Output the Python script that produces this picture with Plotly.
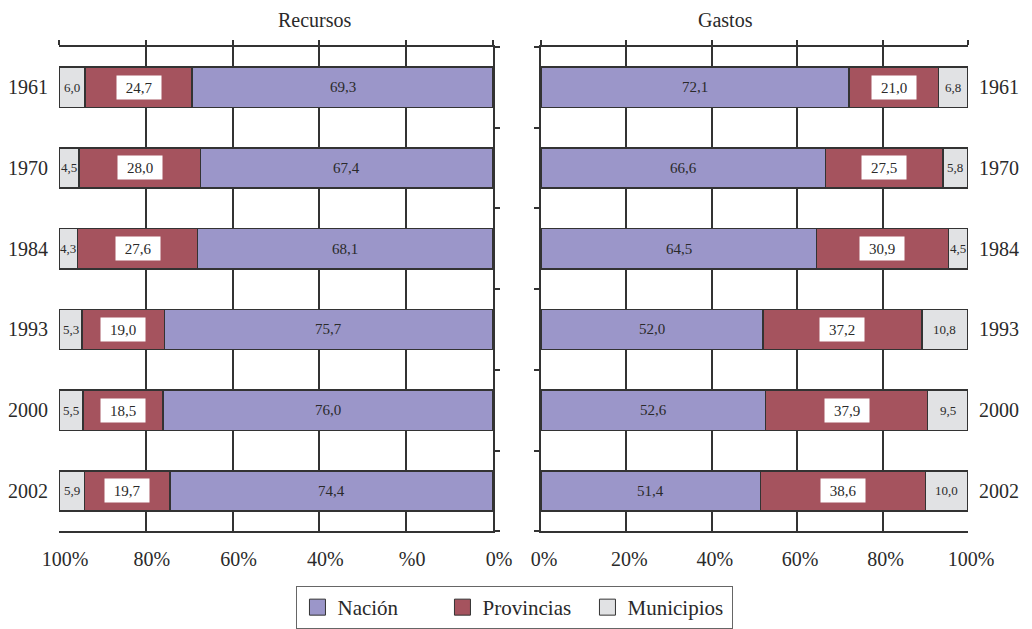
import plotly.graph_objects as go

years = ["1961", "1970", "1984", "1993", "2000", "2002"]
rec_nacion = [69.3, 67.4, 68.1, 75.7, 76.0, 74.4]
rec_prov = [24.7, 28.0, 27.6, 19.0, 18.5, 19.7]
rec_muni = [6.0, 4.5, 4.3, 5.3, 5.5, 5.9]
gas_nacion = [72.1, 66.6, 64.5, 52.0, 52.6, 51.4]
gas_prov = [21.0, 27.5, 30.9, 37.2, 37.9, 38.6]
gas_muni = [6.8, 5.8, 4.5, 10.8, 9.5, 10.0]
pct_vals = [0, 20, 40, 60, 80, 100]
left_tick_text = ["0%", "%0", "40%", "60%", "80%", "100%"]
right_tick_text = ["0%", "20%", "40%", "60%", "80%", "100%"]
series_names = ["Nación", "Provincias", "Municipios"]

C_NAC = "#9b96c9"
C_PROV = "#a5535e"
C_MUNI = "#e1e2e4"
colors = [C_NAC, C_PROV, C_MUNI]
EDGE = "#333333"
FONT = "Liberation Serif"
TXT = "#2a2a2a"

idx = list(range(len(years)))
bounds = [i - 0.5 for i in range(len(years) + 1)]

fig = go.Figure()

panels = [
    ("x", "y", [rec_nacion, rec_prov, rec_muni]),
    ("x2", "y2", [gas_nacion, gas_prov, gas_muni]),
]
for xa, ya, series in panels:
    for name, vals, col in zip(series_names, series, colors):
        fig.add_trace(go.Bar(
            x=vals, y=idx, orientation="h", name=name, xaxis=xa, yaxis=ya,
            marker=dict(color=col, line=dict(color=EDGE, width=1.5)),
            width=0.5, showlegend=False, hoverinfo="skip"))

# dummy traces for overlay axes
fig.add_trace(go.Scatter(x=[None], y=[None], xaxis="x3", yaxis="y3", showlegend=False, hoverinfo="skip"))
fig.add_trace(go.Scatter(x=[None], y=[None], xaxis="x4", yaxis="y4", showlegend=False, hoverinfo="skip"))

# legend proxies
for name, col in zip(series_names, colors):
    fig.add_trace(go.Scatter(
        x=[None], y=[None], mode="markers", name=name,
        marker=dict(symbol="square", size=16, color=col, line=dict(color=EDGE, width=1)),
        xaxis="x", yaxis="y"))

def fmt(v):
    return f"{v:.1f}".replace(".", ",")

annotations = []
for xa, ya, series in panels:
    nac, prov, muni = series
    for i in idx:
        annotations.append(dict(x=nac[i] / 2, y=i, xref=xa, yref=ya, text=fmt(nac[i]),
                                showarrow=False, font=dict(family=FONT, size=15, color=TXT)))
        annotations.append(dict(x=nac[i] + prov[i] / 2, y=i, xref=xa, yref=ya, text=fmt(prov[i]),
                                showarrow=False, bgcolor="white", width=42, height=21, borderpad=1,
                                font=dict(family=FONT, size=15, color=TXT)))
        annotations.append(dict(x=nac[i] + prov[i] + muni[i] / 2, y=i, xref=xa, yref=ya, text=fmt(muni[i]),
                                showarrow=False, font=dict(family=FONT, size=13, color=TXT)))

annotations.append(dict(x=(59 + 493) / 2 / 1032, y=1 - 20 / 629, xref="paper", yref="paper", text="Recursos",
                        yanchor="middle", showarrow=False, font=dict(family=FONT, size=20, color=TXT)))
annotations.append(dict(x=(541 + 968) / 2 / 1032, y=1 - 20 / 629, xref="paper", yref="paper", text="Gastos",
                        yanchor="middle", showarrow=False, font=dict(family=FONT, size=20, color=TXT)))

dom_l = [59 / 1032, 493 / 1032]
dom_r = [541 / 1032, 968 / 1032]
dom_y = [1 - 533 / 629, 1 - 47 / 629]

tickfont = dict(family=FONT, size=20, color=TXT)
common_x = dict(showgrid=True, gridcolor=EDGE, gridwidth=1.5, zeroline=False,
                showline=True, linecolor=EDGE, linewidth=1.5, ticks="",
                tickvals=pct_vals, tickfont=tickfont, ticklabelstandoff=9, automargin=False)
top_x = dict(side="top", showgrid=False, zeroline=False, showline=True, linecolor=EDGE, linewidth=1.5,
             ticks="outside", ticklen=5, tickwidth=1.5, tickcolor=EDGE, tickvals=pct_vals,
             showticklabels=False, automargin=False)
lab_y = dict(range=[5.5, -0.5], domain=dom_y, tickvals=idx, ticktext=years, ticks="",
             showgrid=False, zeroline=False, showline=False, tickfont=tickfont,
             ticklabelstandoff=10, automargin=False)
tick_y = dict(range=[5.5, -0.5], tickvals=bounds, ticks="outside", ticklen=5, tickwidth=1.5,
              tickcolor=EDGE, showticklabels=False, showgrid=False, zeroline=False,
              showline=True, linecolor=EDGE, linewidth=1.5, automargin=False)

fig.update_layout(
    width=1032, height=629,
    margin=dict(l=0, r=0, t=0, b=0),
    paper_bgcolor="white", plot_bgcolor="white",
    barmode="stack",
    xaxis=dict(domain=dom_l, range=[100, 0], ticktext=left_tick_text, anchor="y",
               ticklabelshift=-6, **common_x),
    yaxis=dict(anchor="x", side="left", **lab_y),
    xaxis3=dict(overlaying="x", anchor="y3", range=[100, 0], **top_x),
    yaxis3=dict(overlaying="y", anchor="x", side="right", **tick_y),
    xaxis2=dict(domain=dom_r, range=[0, 100], ticktext=right_tick_text, anchor="y2",
                ticklabelshift=3, **common_x),
    yaxis2=dict(anchor="x2", side="right", **lab_y),
    xaxis4=dict(overlaying="x2", anchor="y4", range=[0, 100], **top_x),
    yaxis4=dict(overlaying="y2", anchor="x2", side="left", **tick_y),
    legend=dict(orientation="h", x=0.499, xanchor="center", y=1 - 588 / 629, yanchor="top",
                bordercolor="#666666", borderwidth=1, font=dict(family=FONT, size=21, color=TXT),
                entrywidth=100, itemsizing="trace", traceorder="normal"),
    annotations=annotations,
    showlegend=True,
)

fig.write_html("out.html")
